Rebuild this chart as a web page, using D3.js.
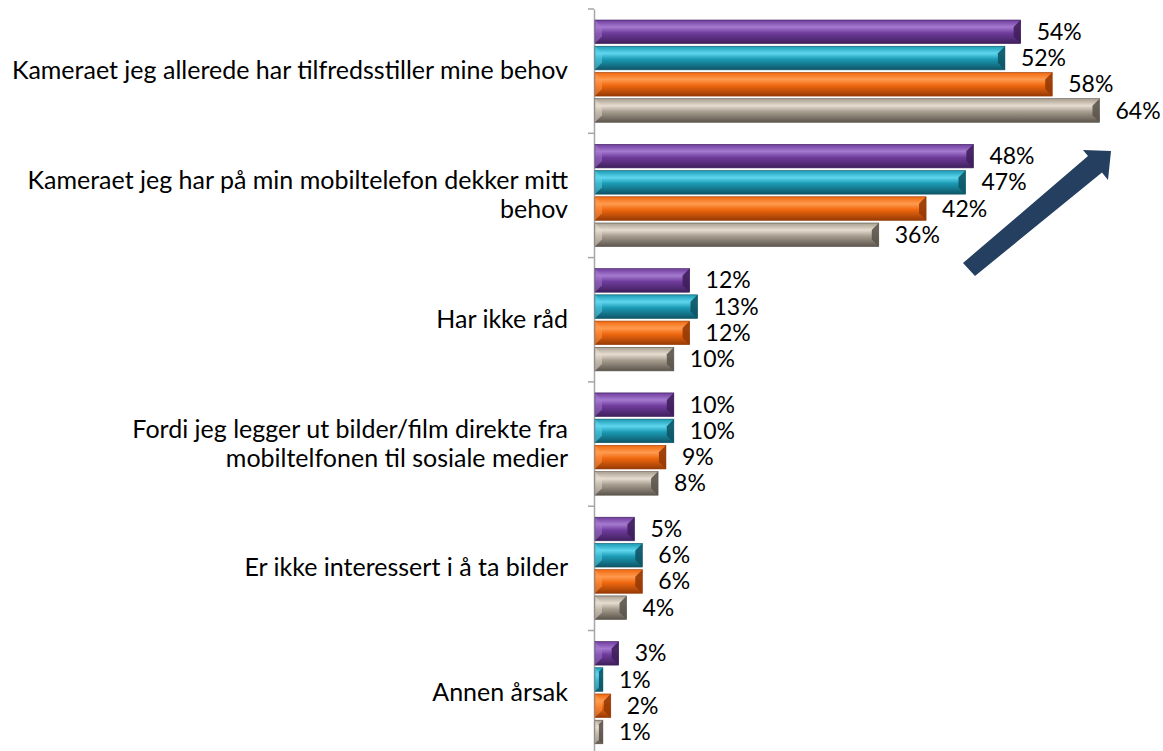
<!DOCTYPE html>
<html>
<head>
<meta charset="utf-8">
<script src="https://cdnjs.cloudflare.com/ajax/libs/d3/7.8.5/d3.min.js"></script>
<style>
  body { margin: 0; background: #fff; }
  text { font-family: Lato, "Open Sans", sans-serif; fill: #000; }
</style>
</head>
<body>
<div class="chart"></div>
<script>
// Årsaker til å ikke kjøpe kamera (4 serier)

var categories = [
  "Kameraet jeg allerede har tilfredsstiller mine behov",
  "Kameraet jeg har på min mobiltelefon dekker mitt\nbehov",
  "Har ikke råd",
  "Fordi jeg legger ut bilder/film direkte fra\nmobiltelfonen til sosiale medier",
  "Er ikke interessert i å ta bilder",
  "Annen årsak"
];
var seriesNames = ["s1", "s2", "s3", "s4"];
var s1 = [54, 48, 12, 10, 5, 3];
var s2 = [52, 47, 13, 10, 6, 1];
var s3 = [58, 42, 12, 9, 6, 2];
var s4 = [64, 36, 10, 8, 4, 1];
var seriesValues = [s1, s2, s3, s4];

var seriesColors = [
  { base: "#6f3c9c", light: "#a57ad0", dark: "#3f1f5c" },
  { base: "#1b9ab4", light: "#5fd6ee", dark: "#0e5566" },
  { base: "#f0680f", light: "#ff9b4f", dark: "#963a05" },
  { base: "#a89e90", light: "#e6ddd0", dark: "#5c554c" }
];

var svgWidth = 1163;
var svgHeight = 751;
var margin = { top: 9, left: 595 };
var fontSize = 25;
var valueFontSize = 23;

var svg = d3.select(".chart")
  .append("svg")
  .attr("width", svgWidth)
  .attr("height", svgHeight);

var defs = svg.append("defs");
seriesColors.forEach(function(c, i) {
  var g = defs.append("linearGradient")
    .attr("id", "grad" + i)
    .attr("x1", 0).attr("y1", 0).attr("x2", 0).attr("y2", 1);
  g.append("stop").attr("offset", "0%").attr("stop-color", c.base);
  g.append("stop").attr("offset", "30%").attr("stop-color", c.light);
  g.append("stop").attr("offset", "55%").attr("stop-color", c.base);
  g.append("stop").attr("offset", "100%").attr("stop-color", c.dark);
});

// scales
var y0 = d3.scaleBand()
  .domain(d3.range(categories.length))
  .range([margin.top, margin.top + 124.3 * categories.length])
  .padding(0);

var y1 = d3.scaleBand()
  .domain(d3.range(seriesNames.length))
  .range([11, y0.bandwidth() - 11])
  .paddingInner(0.1);

var x = d3.scaleLinear()
  .domain([0, 64])
  .range([margin.left, margin.left + 504.5]);

var chartGroup = svg.append("g");

// axis line with ticks at the category boundaries
var yAxis = d3.axisLeft(y0)
  .tickSize(0)
  .tickFormat("");
chartGroup.append("g")
  .attr("transform", `translate(${margin.left - 1}, 0)`)
  .call(yAxis)
  .call(g => g.select(".domain").attr("stroke", "#a6a6a6").attr("stroke-width", 1.5));

var boundaries = d3.range(categories.length + 1).map(i => margin.top + i * y0.step());
chartGroup.selectAll(".bnd")
  .data(boundaries)
  .enter()
  .append("line")
  .attr("x1", margin.left - 7)
  .attr("x2", margin.left - 1)
  .attr("y1", d => d)
  .attr("y2", d => d)
  .attr("stroke", "#a6a6a6")
  .attr("stroke-width", 1.5);

// category labels
categories.forEach(function(cat, i) {
  var lines = cat.split("\n");
  var cy = y0(i) + y0.bandwidth() / 2;
  var lh = 29;
  var t = chartGroup.append("text")
    .attr("text-anchor", "end")
    .attr("font-size", fontSize);
  lines.forEach(function(line, j) {
    t.append("tspan")
      .attr("x", 568)
      .attr("y", cy + (j - (lines.length - 1) / 2) * lh + 8)
      .text(line);
  });
});

// bars
var rows = [];
categories.forEach(function(cat, i) {
  seriesValues.forEach(function(vals, k) {
    rows.push({ cat: i, series: k, value: vals[i] });
  });
});

var barGroup = chartGroup.selectAll(".bar")
  .data(rows)
  .enter()
  .append("g")
  .attr("class", "bar")
  .attr("transform", d => `translate(0, ${y0(d.cat) + y1(d.series)})`);

var bh = y1.bandwidth();

barGroup.append("rect")
  .attr("x", x(0))
  .attr("y", 0)
  .attr("width", d => x(d.value) - x(0))
  .attr("height", bh)
  .attr("fill", d => "url(#grad" + d.series + ")")
  .attr("stroke", d => seriesColors[d.series].dark)
  .attr("stroke-width", 0.6);

// bevel faces at both ends
barGroup.append("path")
  .attr("d", function(d) {
    var w = x(d.value) - x(0);
    var b = Math.min(7, w / 2);
    var x0 = x(0);
    return `M${x0},0 L${x0 + b},${b} L${x0 + b},${bh - b} L${x0},${bh} Z`;
  })
  .attr("fill", d => seriesColors[d.series].light)
  .attr("opacity", 0.5);

barGroup.append("path")
  .attr("d", function(d) {
    var w = x(d.value) - x(0);
    var b = Math.min(7, w / 2);
    var x1 = x(d.value);
    return `M${x1},0 L${x1 - b},${b} L${x1 - b},${bh - b} L${x1},${bh} Z`;
  })
  .attr("fill", d => seriesColors[d.series].dark)
  .attr("opacity", 0.9);

// value labels
barGroup.append("text")
  .attr("x", d => x(d.value) + 16)
  .attr("y", bh / 2 + 8)
  .attr("font-size", valueFontSize)
  .text(d => d.value + "%");

// trend arrow (annotation)
svg.append("path")
  .attr("d", "M963,263 L1088,156 L1083,150 L1111,151 L1108,180 L1102,172.5 L975,276 Z")
  .attr("fill", "#243f60");
</script>
</body>
</html>
